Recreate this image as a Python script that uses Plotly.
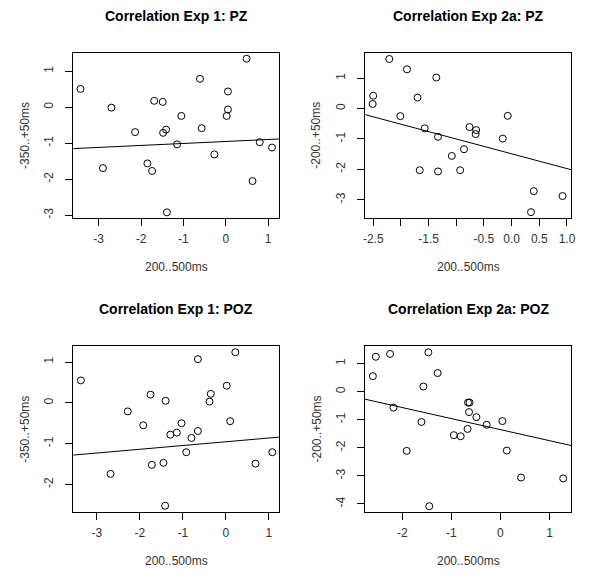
import plotly.graph_objects as go

# ---------------- data ----------------
titles = ["Correlation Exp 1: PZ", "Correlation Exp 2a: PZ",
          "Correlation Exp 1: POZ", "Correlation Exp 2a: POZ"]
x_label = "200..500ms"
y_labels = ["-350..+50ms", "-200..+50ms", "-350..+50ms", "-200..+50ms"]

p1_x = [-3.43, -2.90, -2.70, -2.14, -1.85, -1.74, -1.69, -1.49, -1.48, -1.41, -1.39, -1.15,
        -1.05, -0.61, -0.57, -0.27, 0.02, 0.05, 0.05, 0.49, 0.63, 0.80, 1.09]
p1_y = [0.51, -1.69, -0.01, -0.69, -1.56, -1.77, 0.18, 0.15, -0.71, -0.62, -2.92, -1.03,
        -0.24, 0.79, -0.58, -1.31, -0.24, -0.06, 0.44, 1.35, -2.05, -0.97, -1.12]

p2_x = [-2.21, -1.89, -1.36, -2.50, -2.51, -1.70, -2.01, -1.57, -1.33, -1.66, -1.33,
        -1.08, -0.93, -0.86, -0.76, -0.64, -0.65, -0.16, -0.07, 0.35, 0.40, 0.92]
p2_y = [1.63, 1.29, 1.02, 0.42, 0.15, 0.36, -0.25, -0.65, -0.93, -2.03, -2.07,
        -1.56, -2.03, -1.34, -0.61, -0.71, -0.84, -0.99, -0.24, -3.41, -2.72, -2.88]

p3_x = [-3.37, -2.68, -2.28, -1.92, -1.75, -1.72, -1.40, -1.45, -1.41, -1.29, -1.14, -1.03,
        -0.92, -0.80, -0.65, -0.65, -0.38, -0.35, 0.02, 0.10, 0.22, 0.69, 1.08]
p3_y = [0.55, -1.74, -0.21, -0.55, 0.20, -1.52, 0.05, -1.47, -2.52, -0.78, -0.73, -0.50,
        -1.21, -0.86, -0.69, 1.07, 0.03, 0.22, 0.42, -0.45, 1.24, -1.49, -1.21]

p4_x = [-2.60, -2.54, -2.25, -2.18, -1.91, -1.61, -1.57, -1.47, -1.45, -1.28, -0.95,
        -0.81, -0.67, -0.66, -0.63, -0.64, -0.49, -0.28, 0.04, 0.13, 0.42, 1.28]
p4_y = [0.55, 1.24, 1.34, -0.57, -2.11, -1.08, 0.18, 1.40, -4.08, 0.66, -1.55,
        -1.59, -1.33, -0.39, -0.39, -0.73, -0.91, -1.18, -1.05, -2.10, -3.06, -3.09]

# regression lines: intercept, slope
fit_intercept = [-0.95, -1.49, -0.954, -1.354]
fit_slope = [0.055, -0.487, 0.092, -0.393]

# tick values / labels
p1_xticks = [-3, -2, -1, 0, 1]
p1_xtext = ["-3", "-2", "-1", "0", "1"]
p1_yticks = [-3, -2, -1, 0, 1]
p1_ytext = ["-3", "-2", "-1", "0", "1"]
p2_xticks = [-2.5, -2.0, -1.5, -1.0, -0.5, 0.0, 0.5, 1.0]
p2_xtext = ["-2.5", "", "-1.5", "", "-0.5", "0.0", "0.5", "1.0"]
p2_yticks = [-3, -2, -1, 0, 1]
p2_ytext = ["-3", "-2", "-1", "0", "1"]
p3_xticks = [-3, -2, -1, 0, 1]
p3_xtext = ["-3", "-2", "-1", "0", "1"]
p3_yticks = [-2, -1, 0, 1]
p3_ytext = ["-2", "-1", "0", "1"]
p4_xticks = [-2, -1, 0, 1]
p4_xtext = ["-2", "-1", "0", "1"]
p4_yticks = [-4, -3, -2, -1, 0, 1]
p4_ytext = ["-4", "-3", "-2", "-1", "0", "1"]

# ---------------- layout ----------------
W, H = 600, 580
FONT = "Liberation Sans, Arial, Helvetica, sans-serif"

panels = [
    dict(x=p1_x, y=p1_y, xr=[-3.60, 1.26], yr=[-3.075, 1.52],
         xt=p1_xticks, xtt=p1_xtext, yt=p1_yticks, ytt=p1_ytext,
         px=(72, 280), py=(52.7, 218.3)),
    dict(x=p2_x, y=p2_y, xr=[-2.648, 1.077], yr=[-3.60, 1.84],
         xt=p2_xticks, xtt=p2_xtext, yt=p2_yticks, ytt=p2_ytext,
         px=(366.7, 575), py=(52.7, 218.3)),
    dict(x=p3_x, y=p3_y, xr=[-3.546, 1.24], yr=[-2.67, 1.39],
         xt=p3_xticks, xtt=p3_xtext, yt=p3_yticks, ytt=p3_ytext,
         px=(72, 280), py=(346.7, 512.7)),
    dict(x=p4_x, y=p4_y, xr=[-2.76, 1.444], yr=[-4.28, 1.62],
         xt=p4_xticks, xtt=p4_xtext, yt=p4_yticks, ytt=p4_ytext,
         px=(366.7, 575), py=(346.7, 512.7)),
]

fig = go.Figure()
annotations = []
for i, p in enumerate(panels):
    k = "" if i == 0 else str(i + 1)
    xa, ya = "x" + k, "y" + k
    fig.add_trace(go.Scatter(
        x=p["x"], y=p["y"], mode="markers", xaxis=xa, yaxis=ya,
        marker=dict(symbol="circle-open", size=7, color="black",
                    line=dict(width=1, color="black")),
        showlegend=False, hoverinfo="skip"))
    lx = p["xr"]
    ly = [fit_intercept[i] + fit_slope[i] * v for v in lx]
    fig.add_trace(go.Scatter(
        x=lx, y=ly, mode="lines", xaxis=xa, yaxis=ya,
        line=dict(color="black", width=1), showlegend=False, hoverinfo="skip"))

    x0, x1 = p["px"]
    y0, y1 = p["py"]
    axis_common = dict(showgrid=False, zeroline=False, showline=True, mirror=True,
                       linecolor="black", linewidth=1, ticks="outside", ticklen=7,
                       tickcolor="black", tickwidth=1, tickmode="array",
                       tickfont=dict(family=FONT, size=12, color="#333333"))
    fig.update_layout(**{
        ("xaxis" + k): dict(domain=[x0 / W, x1 / W], range=p["xr"], anchor=ya,
                            tickvals=p["xt"], ticktext=p["xtt"],
                            ticklabelstandoff=3, **axis_common),
        ("yaxis" + k): dict(domain=[1 - y1 / H, 1 - y0 / H], range=p["yr"], anchor=xa,
                            tickvals=p["yt"], ticktext=p["ytt"], tickangle=-90,
                            ticklabelstandoff=7, **axis_common),
    })
    cx = (x0 + x1) / 2
    # title
    annotations.append(dict(text="<b>" + titles[i] + "</b>", x=cx / W,
                            y=1 - (y0 - 37) / H, xref="paper", yref="paper",
                            showarrow=False, xanchor="center", yanchor="middle",
                            font=dict(family=FONT, size=14, color="black")))
    # x label
    annotations.append(dict(text=x_label, x=cx / W, y=1 - (y1 + 49.5) / H,
                            xref="paper", yref="paper", showarrow=False,
                            xanchor="center", yanchor="middle",
                            font=dict(family=FONT, size=12, color="#333333")))
    # y label
    annotations.append(dict(text=y_labels[i], x=(x0 - 49) / W, y=1 - ((y0 + y1) / 2) / H,
                            xref="paper", yref="paper", showarrow=False, textangle=-90,
                            xanchor="center", yanchor="middle",
                            font=dict(family=FONT, size=12, color="#333333")))

fig.update_layout(width=W, height=H, margin=dict(l=0, r=0, t=0, b=0),
                  paper_bgcolor="white", plot_bgcolor="white",
                  annotations=annotations)
fig.write_html("out.html", config={"displayModeBar": False},
               post_script="document.body.style.margin='0';")
